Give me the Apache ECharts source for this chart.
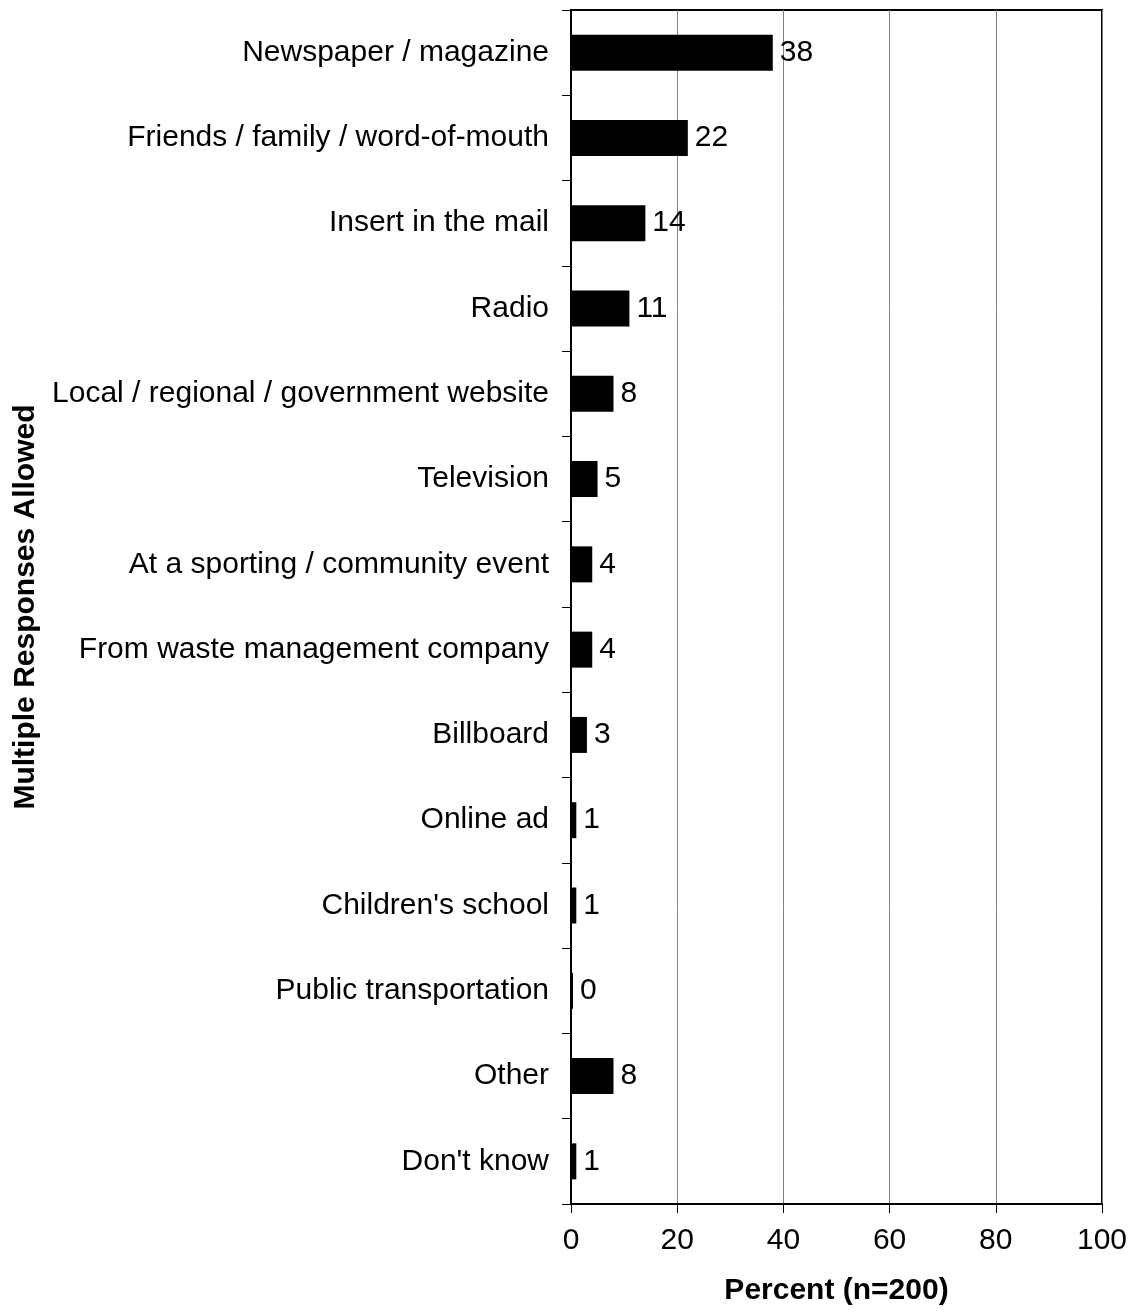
<!DOCTYPE html>
<html>
<head>
<meta charset="utf-8">
<title>Sources of information</title>
<script src="https://cdn.jsdelivr.net/npm/echarts@6/dist/echarts.min.js"></script>
<style>
  html, body { margin: 0; padding: 0; background: #fff; }
  #chart { width: 1132px; height: 1313px; }
</style>
</head>
<body>
<div id="chart"></div>
<script>
// Response categories, top to bottom
const categories = [
  'Newspaper / magazine',
  'Friends / family / word-of-mouth',
  'Insert in the mail',
  'Radio',
  'Local / regional / government website',
  'Television',
  'At a sporting / community event',
  'From waste management company',
  'Billboard',
  'Online ad',
  "Children's school",
  'Public transportation',
  'Other',
  "Don't know"
];

// Percent of respondents naming each source
const percentValues = [38, 22, 14, 11, 8, 5, 4, 4, 3, 1, 1, 0, 8, 1];

// Percent axis ticks
const percentTicks = [0, 20, 40, 60, 80, 100];

const FONT = 'Liberation Sans, Arial, Helvetica, sans-serif';

const chart = echarts.init(document.getElementById('chart'), null, { renderer: 'canvas' });

chart.setOption({
  animation: false,
  backgroundColor: '#ffffff',
  grid: {
    left: 571,
    right: 30,
    top: 10,
    bottom: 109,
    show: true,
    borderColor: '#000',
    borderWidth: 2,
    containLabel: false
  },
  xAxis: {
    type: 'value',
    min: percentTicks[0],
    max: percentTicks[percentTicks.length - 1],
    interval: 20,
    name: 'Percent (n=200)',
    nameLocation: 'middle',
    nameGap: 72,
    nameTextStyle: { fontFamily: FONT, fontSize: 30, fontWeight: 'bold', color: '#000' },
    axisLine: { show: true, lineStyle: { color: '#000', width: 2 } },
    axisTick: { show: true, length: 9, lineStyle: { color: '#000', width: 1 } },
    axisLabel: { fontFamily: FONT, fontSize: 30, color: '#000', margin: 22 },
    splitLine: { show: true, lineStyle: { color: '#808080', width: 1 } }
  },
  yAxis: {
    type: 'category',
    data: categories,
    inverse: true,
    boundaryGap: true,
    name: 'Multiple Responses Allowed',
    nameLocation: 'middle',
    nameRotate: 90,
    nameGap: 530,
    nameTextStyle: { fontFamily: FONT, fontSize: 30, fontWeight: 'bold', color: '#000' },
    axisLine: { show: true, lineStyle: { color: '#000', width: 2 } },
    axisTick: { show: true, length: 9, alignWithLabel: false, lineStyle: { color: '#000', width: 1 } },
    axisLabel: { fontFamily: FONT, fontSize: 30, color: '#000', margin: 22, interval: 0 },
    splitLine: { show: false }
  },
  series: [{
    type: 'bar',
    data: percentValues,
    barWidth: 36,
    barMinHeight: 2,
    itemStyle: { color: '#000' },
    label: {
      show: true,
      position: 'right',
      distance: 7,
      fontFamily: FONT,
      fontSize: 30,
      color: '#000'
    }
  }]
});
</script>
</body>
</html>
